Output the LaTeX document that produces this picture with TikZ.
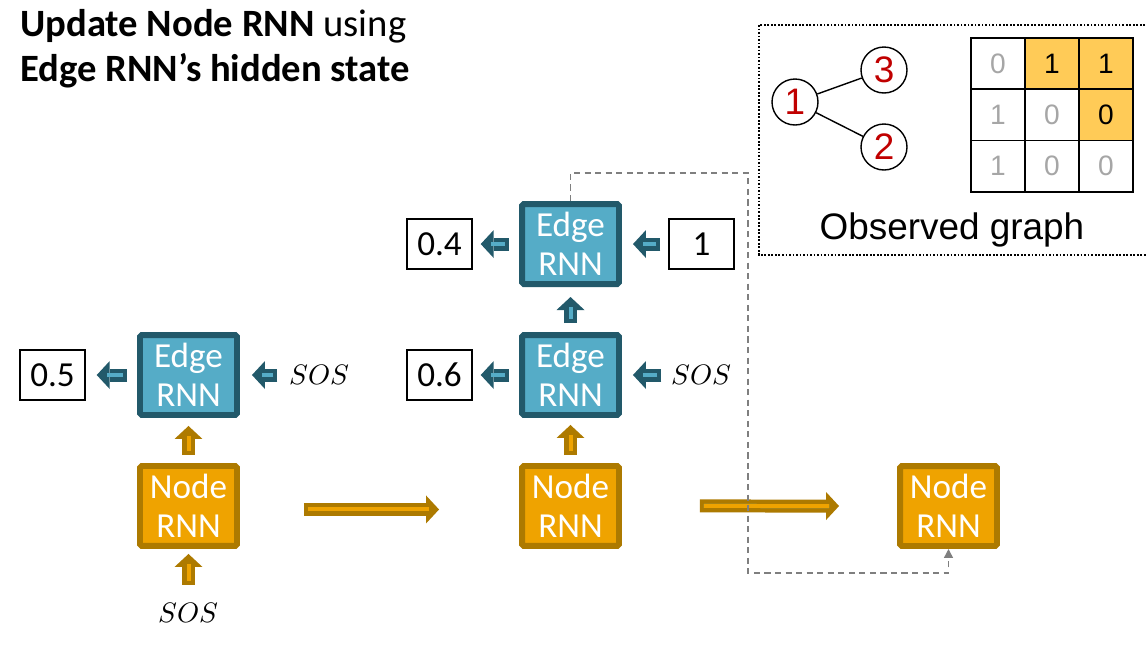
\documentclass[tikz,border=0pt]{standalone}
\usepackage{fontspec}
\usepackage{unicode-math}
\setmainfont{Carlito}
\setmathfont{Latin Modern Math}
\newfontfamily\helv{Liberation Sans}
\usetikzlibrary{arrows.meta,positioning}

\definecolor{edgefill}{HTML}{55ACC7}
\definecolor{edgeline}{HTML}{22596A}
\definecolor{nodefill}{HTML}{EFA300}
\definecolor{nodeline}{HTML}{AD7A00}
\definecolor{cellfill}{HTML}{FFCB57}
\definecolor{numred}{HTML}{C00000}
\definecolor{lightnum}{HTML}{A6A6A6}
\definecolor{dashgray}{HTML}{7F7F7F}

\begin{document}
\begin{tikzpicture}[x=0.02cm, y=-0.02cm, node distance=2.62cm]

    % Styles
    \tikzstyle{edgernn} = [rectangle, rounded corners=1pt, minimum width=1.94cm, minimum height=1.6cm, inner sep=0pt, text centered, align=center, draw=edgeline, fill=edgefill, line width=3.4pt, text=white, font=\fontsize{20}{22}\selectfont]
    \tikzstyle{nodernn} = [edgernn, draw=nodeline, fill=nodefill]
    \tikzstyle{valbox} = [rectangle, draw=black, line width=0.8pt, minimum width=1.3cm, minimum height=1cm, inner sep=0pt, font=\fontsize{20}{22}\selectfont]
    \tikzstyle{sostext} = [inner sep=0pt, font=\fontsize{16}{18}\selectfont]
    \tikzstyle{edgearrow} = [draw=edgeline, line width=0.26cm, -{Triangle[length=0.26cm, width=0.56cm, line width=0pt]}, postaction={draw=edgefill, line width=0.08cm, -, shorten <=0.08cm, shorten >=0.2cm}]
    \tikzstyle{nodearrow} = [edgearrow, draw=nodeline, postaction={draw=nodefill, line width=0.08cm, -, shorten <=0.08cm, shorten >=0.2cm}]
    \tikzstyle{feedback} = [draw=dashgray, line width=0.8pt, dash pattern=on 3.5pt off 2.5pt, -{Triangle[length=5pt, width=5pt]}]
    \tikzstyle{gnode} = [circle, draw=black, line width=0.8pt, minimum size=0.92cm, inner sep=0pt, text=numred, font=\helv\fontsize{21}{24}\selectfont]
    \tikzstyle{cell} = [rectangle, draw=black, line width=1pt, minimum width=1.08cm, minimum height=1.03cm, inner sep=0pt, font=\helv\fontsize{16}{18}\selectfont]

    \useasboundingbox (0,0) rectangle (1146,654);

    % Titre
    \node (title) [anchor=north west, inner sep=0pt, align=left, font=\fontsize{22}{25.6}\selectfont] at (20,9) {\textbf{Update Node RNN} using\\\textbf{Edge RNN’s hidden state}};

    % Etape 1
    \node (edge-1) [edgernn] at (188.5,375) {Edge\\RNN};
    \node (node-1) [nodernn, below of=edge-1] {Node\\RNN};
    \node (out-1) [valbox, left of=edge-1, xshift=-0.1cm] {0.5};
    \node (sos-1) [sostext, right of=edge-1] {$SOS$};
    \node (sos-0) [sostext, below of=node-1, yshift=0.49cm] {$SOS$};

    % Etape 2
    \node (edge-2a) [edgernn] at (570.5,375) {Edge\\RNN};
    \node (edge-2b) [edgernn, above of=edge-2a] {Edge\\RNN};
    \node (node-2) [nodernn, below of=edge-2a] {Node\\RNN};
    \node (out-2a) [valbox, left of=edge-2a] {0.6};
    \node (out-2b) [valbox, left of=edge-2b] {0.4};
    \node (in-2b) [valbox, right of=edge-2b] {1};
    \node (sos-2a) [sostext, right of=edge-2a] {$SOS$};

    % Etape 3
    \node (node-3) [nodernn] at (948.5,506) {Node\\RNN};

    % Fleches
    \draw [edgearrow] ([xshift=-0.2cm]edge-1.west) -- ([xshift=0.22cm]out-1.east);
    \draw [edgearrow] ([xshift=-0.24cm]sos-1.west) -- ([xshift=0.24cm]edge-1.east);
    \draw [nodearrow] ([yshift=0.16cm]node-1.north) -- ([yshift=-0.16cm]edge-1.south);
    \draw [nodearrow] ([yshift=0.34cm]sos-0.north) -- ([yshift=-0.1cm]node-1.south);
    \draw [edgearrow] ([xshift=-0.2cm]edge-2a.west) -- ([xshift=0.16cm]out-2a.east);
    \draw [edgearrow] ([xshift=-0.2cm]edge-2b.west) -- ([xshift=0.16cm]out-2b.east);
    \draw [edgearrow] ([xshift=-0.16cm]in-2b.west) -- ([xshift=0.22cm]edge-2b.east);
    \draw [edgearrow] ([xshift=-0.2cm]sos-2a.west) -- ([xshift=0.22cm]edge-2a.east);
    \draw [edgearrow] ([yshift=0.18cm]edge-2a.north) -- ([yshift=-0.2cm]edge-2b.south);
    \draw [nodearrow] ([yshift=0.16cm]node-2.north) -- ([yshift=-0.14cm]edge-2a.south);
    \draw [nodearrow] ([xshift=1.28cm, yshift=-0.07cm]node-1.east) -- ([xshift=-1.6cm, yshift=-0.07cm]node-2.west);
    \draw [nodearrow] ([xshift=1.56cm]node-2.east) -- ([xshift=-1.16cm]node-3.west);

    % Retour pointille
    \coordinate (fb-top) at (748,173);
    \coordinate (fb-bot) at (748,573);
    \draw [feedback] (edge-2b.north) |- (fb-top) -- (fb-bot) -| (node-3.south);

    % Graphe observe
    \draw [line width=1pt, dash pattern=on 1pt off 1pt] (759,25) rectangle (1156,255);
    \node (g1) [gnode] at (795,102) {1};
    \node (g3) [gnode] at (884,70) {3};
    \node (g2) [gnode] at (884,147) {2};
    \draw [line width=0.8pt] (g1) -- (g3);
    \draw [line width=0.8pt] (g1) -- (g2);
    \foreach \v/\r/\c/\f/\t in {0/1/1/white/lightnum, 1/1/2/cellfill/black, 1/1/3/cellfill/black,
                                1/2/1/white/lightnum, 0/2/2/white/lightnum, 0/2/3/cellfill/black,
                                1/3/1/white/lightnum, 0/3/2/white/lightnum, 0/3/3/white/lightnum}
        \node (m-\r-\c) [cell, fill=\f, text=\t] at ({944+54*\c}, {12.3+51.33*\r}) {\v};
    \node (obs) [font=\helv\fontsize{21}{24}\selectfont] at (952,230) {Observed graph};

\end{tikzpicture}
\end{document}
